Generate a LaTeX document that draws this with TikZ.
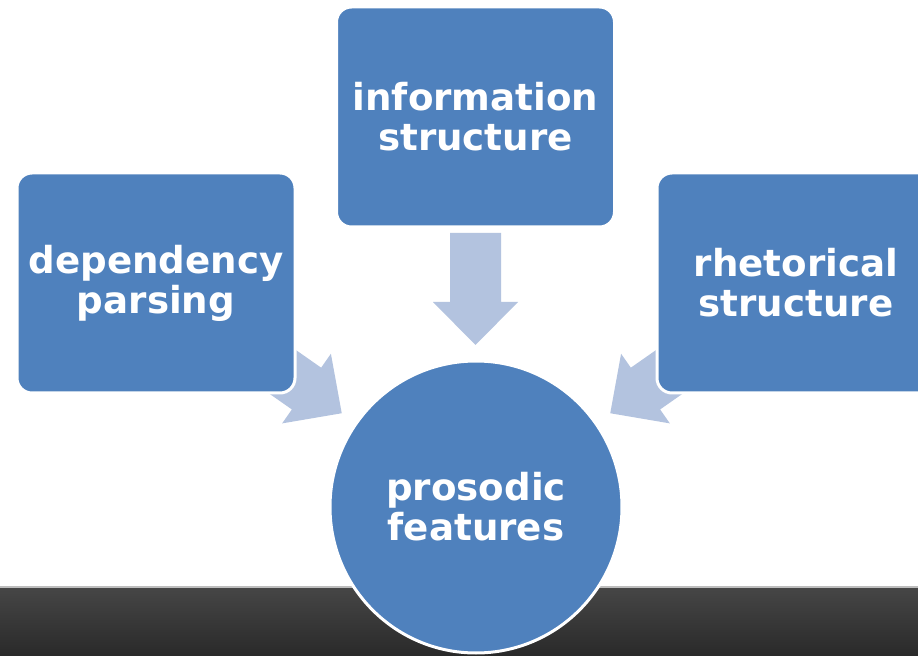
\documentclass[tikz,border=0pt]{standalone}
\usepackage{fontspec}
\setmainfont{DejaVu Sans}
\definecolor{boxblue}{HTML}{4F81BD}
\definecolor{arrowblue}{HTML}{B3C3DF}
\definecolor{bartop}{HTML}{464646}
\definecolor{barbottom}{HTML}{2A2A2A}
\definecolor{barline}{HTML}{BDBDBD}
\tikzset{
  topic/.style={rectangle, rounded corners=7.5pt, fill=boxblue, draw=white,
    line width=1.5pt, minimum width=139pt, minimum height=110pt, text=white,
    font=\bfseries\fontsize{18.6}{20}\selectfont, align=center},
  core/.style={circle, fill=boxblue, draw=white, line width=1.5pt,
    minimum size=146pt, inner sep=0pt, text=white,
    font=\bfseries\fontsize{18.6}{20}\selectfont, align=center},
  pics/bigarrow/.style={code={
    \fill[arrowblue] (0,-25.5) -- (69,-25.5) -- (69,-42.5) -- (112,0)
      -- (69,42.5) -- (69,25.5) -- (0,25.5) -- cycle;}}
}
\begin{document}
\begin{tikzpicture}[x=0.5pt,y=0.5pt]
\clip (0,0) rectangle (918,655);
\fill[white] (0,0) rectangle (918,655);
% bottom bar
\shade[top color=bartop, bottom color=barbottom] (0,0) rectangle (918,68);
\draw[barline, line width=0.8pt] (0,68) -- (918,68);
% arrows
\coordinate (aL) at (250,306);
\coordinate (aT) at (475.5,422);
\coordinate (aR) at (702,306);
\pic[rotate=-35] at (aL) {bigarrow};
\pic[rotate=-90] at (aT) {bigarrow};
\pic[rotate=-145] at (aR) {bigarrow};
% boxes
\node[topic] (dep) at (156,372) {dependency\\parsing};
\node[topic] (info) at (475.5,538) {information\\structure};
\node[topic] (rhet) at (796,372) {rhetorical\\structure};
\node[core] (pros) at (476,148) {prosodic\\features};
\end{tikzpicture}
\end{document}
